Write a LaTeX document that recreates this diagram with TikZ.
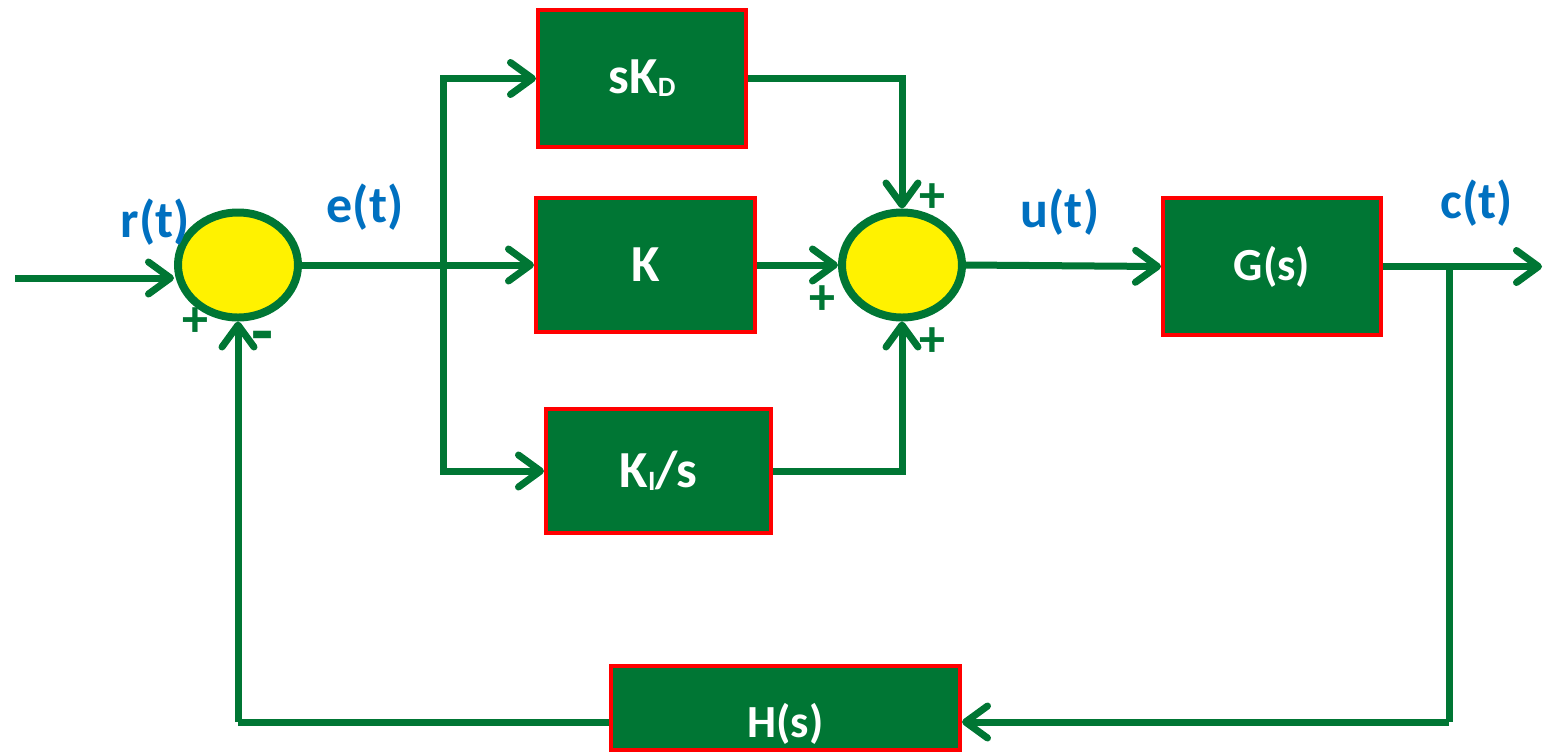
\documentclass[tikz,border=0pt]{standalone}
\usepackage{fontspec}
\setmainfont{Carlito}
\usetikzlibrary{shapes.geometric,arrows.meta}
\definecolor{blkgreen}{RGB}{0,118,52}
\definecolor{sigblue}{RGB}{0,112,192}
\newcommand{\lowsub}[1]{\raisebox{-1.5pt}{\fontsize{14}{14}\selectfont #1}}

\begin{document}
\begin{tikzpicture}[x=0.5pt,y=-0.5pt,
  blk/.style args = {#1/#2}{rectangle, draw=red, line width=2pt, fill=blkgreen, text=white, inner sep=0pt,
    font=\fontsize{26}{26}\selectfont\bfseries, minimum width=#1, minimum height=#2},
  sumpt/.style = {ellipse, draw=blkgreen, line width=4pt, fill=yellow, inner sep=0pt, minimum width=60pt, minimum height=52.5pt},
  sig/.style = {text=sigblue, font=\fontsize{26}{26}\selectfont\bfseries, inner sep=0pt},
  sgn/.style = {text=blkgreen, font=\fontsize{26}{26}\selectfont\bfseries, inner sep=0pt},
  arr/.style = {draw=blkgreen, line width=3.5pt, -{Straight Barb[length=11pt,width=16pt,round]}},
  ln/.style = {draw=blkgreen, line width=3.5pt}]
\useasboundingbox (0,0) rectangle (1544,752);
% blocks
\node (kd) [blk=104pt/68.5pt] at (642,78.5) {sK\lowsub{D}};
\node (kp) [blk=109.5pt/67pt] at (645.5,265) {K};
\node (ki) [blk=112.5pt/62pt] at (658.5,471) {K\lowsub{I}/s};
\node (gs) [blk=109pt/68.5pt, font=\fontsize{23}{23}\selectfont\bfseries] at (1272,266.5) {G(s)};
\node (hs) [blk=174.5pt/42pt, font=\fontsize{23}{23}\selectfont\bfseries, text height=35.5pt, text depth=6.5pt] at (785.5,708) {H(s)};
% summing points
\node (sum1) [sumpt] at (238,265) {};
\node (sum2) [sumpt] at (902,265) {};
% signals
\node (rt) [sig] at (155,222) {r(t)};
\node (et) [sig] at (365,207) {e(t)};
\node (ut) [sig] at (1060,212) {u(t)};
\node (ct) [sig] at (1477,203) {c(t)};
% signs
\node (s1) [sgn] at (195,322) {+};
\node (s2) [sgn, font=\fontsize{36}{36}\selectfont\bfseries] at (263,343) {-};
\node (s3) [sgn] at (932,198) {+};
\node (s4) [sgn] at (822,300) {+};
\node (s5) [sgn] at (932,342) {+};
% free ends
\coordinate (in) at (15,278);
\coordinate (out) at (1542,265);
\coordinate (br1) at (443,265);
\coordinate (br2) at (1449,265);
\coordinate (fb) at (1449,722);
\coordinate (lb) at (238,722);
\draw[arr] (in) -- (in -| sum1.west);
\draw[arr] (gs.east) -- (gs.east -| out);
\foreach \from/\to in {sum1.east/kp.west,kp.east/sum2.west,sum2.east/gs.west,lb/sum1.south}
  \draw[arr] (\from) -- (\to);
\foreach \to in {kd.west,ki.west}
  \draw[arr] (br1) |- (\to);
\foreach \from/\to in {kd.east/sum2.north,ki.east/sum2.south}
  \draw[arr] (\from) -| (\to);
\draw[ln] (br2) -- (fb);
\draw[arr] (fb) -- (fb -| hs.east);
\draw[ln] (hs.west |- lb) -- (lb);
\end{tikzpicture}
\end{document}
